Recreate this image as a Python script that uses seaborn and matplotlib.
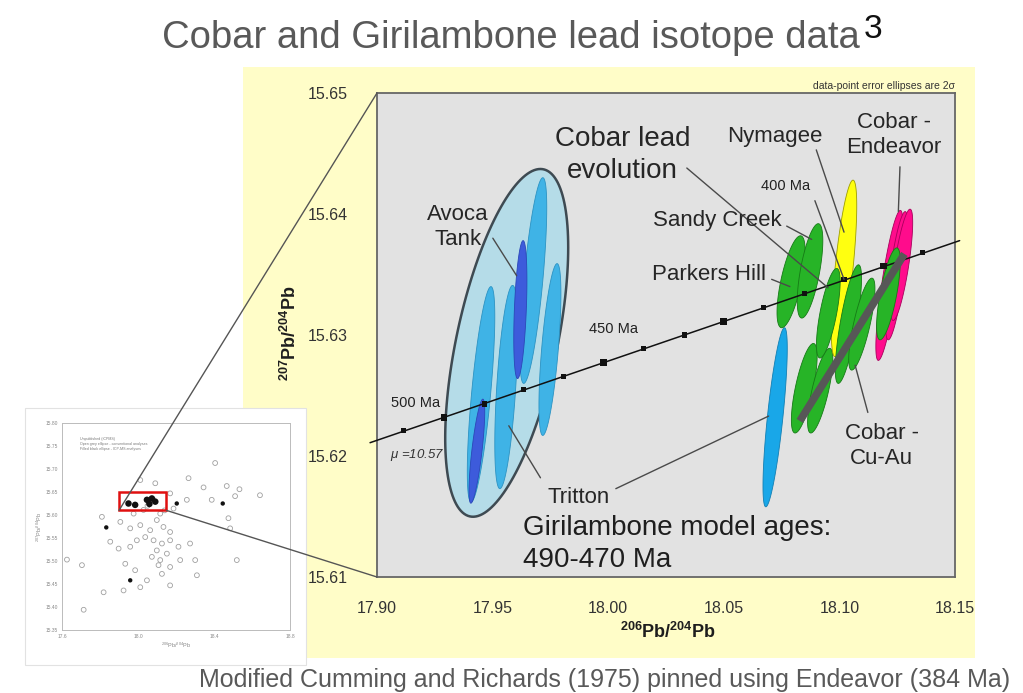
import numpy as np
import matplotlib
matplotlib.use("Agg")
import matplotlib.pyplot as plt
import seaborn as sns
from matplotlib.patches import Rectangle, ConnectionPatch

sns.set_theme(style="white")
plt.rcParams["font.family"] = ["Liberation Sans", "DejaVu Sans"]
plt.rcParams["mathtext.fontset"] = "custom"
plt.rcParams["mathtext.rm"] = "Liberation Sans"
plt.rcParams["mathtext.bf"] = "Liberation Sans:bold"
plt.rcParams["mathtext.it"] = "Liberation Sans:italic"

# ---------------- data ----------------
x_ticks = [17.90, 17.95, 18.00, 18.05, 18.10, 18.15]
y_ticks = [15.61, 15.62, 15.63, 15.64, 15.65]

# Cumming & Richards growth curve (modified)
evo_curve_x = [17.897, 18.152]
evo_curve_y = [15.6211, 15.6378]
evo_x = [17.9115, 17.929, 17.9465, 17.9635, 17.9806, 17.998, 18.0153,
         18.033, 18.050, 18.067, 18.085, 18.102, 18.119, 18.136]
evo_y = [15.6221, 15.6232, 15.6243, 15.6255, 15.6266, 15.6277, 15.6289,
         15.6300, 15.6311, 15.6323, 15.6334, 15.6346, 15.6357, 15.6368]
evo_major = [False, True, False, False, False, True, False,
             False, True, False, False, False, True, False]

# Girilambone envelope ellipse (centre, 2-sigma half widths, correlation)
env_x, env_y, env_sx, env_sy, env_rho = 17.9561, 15.62935, 0.0266, 0.01437, 0.548

# Avoca Tank / Tritton (Girilambone) error ellipses
avoca_x = [17.9450, 17.9432, 17.9559, 17.9676, 17.9620, 17.9748]
avoca_y = [15.6251, 15.6204, 15.6257, 15.6345, 15.6321, 15.6288]
avoca_sx = [0.00595, 0.0034, 0.00495, 0.00582, 0.00284, 0.00475]
avoca_sy = [0.0089, 0.0043, 0.0084, 0.0085, 0.0057, 0.0071]
avoca_rho = [0.72, 0.76, 0.556, 0.707, 0.42, 0.65]
avoca_dark = [False, True, False, False, True, False]

# Tritton (blue, Cobar side)
trit_x, trit_y, trit_sx, trit_sy, trit_rho = 18.0722, 15.6232, 0.00525, 0.0074, 0.768

# Sandy Creek / Parkers Hill / Cobar Cu-Au (green)
green_x = [18.0791, 18.0873, 18.0848, 18.0917, 18.0952, 18.1039, 18.1097, 18.1212]
green_y = [15.6344, 15.6353, 15.6256, 15.6254, 15.6318, 15.6309, 15.6309, 15.6334]
green_sx = [0.00608, 0.00553, 0.00557, 0.00545, 0.00512, 0.00567, 0.00567, 0.00512]
green_sy = [0.0038, 0.0039, 0.0037, 0.0035, 0.0037, 0.0049, 0.0038, 0.0038]
green_rho = [0.666, 0.642, 0.709, 0.743, 0.703, 0.767, 0.767, 0.703]

# Nymagee (yellow)
nym_x, nym_y, nym_sx, nym_sy, nym_rho = 18.1020, 15.6355, 0.0055, 0.0073, 0.707

# Cobar - Endeavor (magenta)
end_x = [18.1216, 18.1248, 18.1269]
end_y = [15.6341, 15.6349, 15.6358]
end_sx = [0.00583, 0.0048, 0.0048]
end_sy = [0.0062, 0.0053, 0.0046]
end_rho = [0.815, 0.76, 0.76]

# Cobar Cu-Au trend line
trend_x = [18.0829, 18.1281]
trend_y = [15.6229, 15.6367]

# Labels: text, x, y, size
labels = [
    ("Cobar lead\nevolution", 18.0062, 15.6449, 20),
    ("Nymagee", 18.0719, 15.6464, 16),
    ("Cobar -\nEndeavor", 18.1234, 15.6465, 16),
    ("Sandy Creek", 18.0471, 15.6395, 16),
    ("Parkers Hill", 18.0437, 15.6350, 16),
    ("Avoca\nTank", 17.9350, 15.6389, 16),
    ("Tritton", 17.9870, 15.6166, 16),
    ("Cobar -\nCu-Au", 18.1183, 15.6208, 16),
]
age_labels = [("400 Ma", 18.0765, 15.6423), ("450 Ma", 18.0024, 15.6305),
              ("500 Ma", 17.9166, 15.6244)]
leaders = [
    (18.0340, 15.6438, 18.0951, 15.6339),
    (18.0900, 15.6453, 18.1020, 15.6385),
    (18.1262, 15.6439, 18.1255, 15.6402),
    (18.0894, 15.6411, 18.1020, 15.6346),
    (18.0772, 15.6390, 18.0880, 15.6379),
    (18.0707, 15.6346, 18.0786, 15.6340),
    (17.9501, 15.6380, 17.9604, 15.6349),
    (17.9707, 15.6182, 17.9570, 15.6225),
    (18.0033, 15.6173, 18.0694, 15.6233),
    (18.1123, 15.6236, 18.1068, 15.6275),
]

# Inset (regional data)
inset_x = [18.406, 18.266, 18.345, 18.467, 18.534, 18.642, 18.511, 18.388, 18.257, 18.169,
           18.187, 17.810, 17.907, 17.959, 18.012, 18.064, 18.099, 18.134, 18.169, 18.038,
           18.082, 18.126, 18.169, 18.213, 18.274, 17.994, 17.959, 18.099, 18.152, 18.117,
           18.073, 18.169, 18.108, 18.222, 18.301, 18.310, 18.126, 18.047, 18.169, 17.985,
           17.933, 17.854, 17.898, 18.485, 18.476, 18.520, 17.705, 17.626, 17.819, 17.924,
           17.714, 18.012, 18.091, 18.012, 18.082, 18.029, 17.977, 18.117, 18.050, 18.140]
inset_y = [15.713, 15.680, 15.660, 15.663, 15.656, 15.643, 15.641, 15.633, 15.633, 15.647,
           15.614, 15.596, 15.585, 15.571, 15.578, 15.567, 15.589, 15.574, 15.563, 15.552,
           15.545, 15.538, 15.545, 15.531, 15.538, 15.545, 15.531, 15.523, 15.516, 15.502,
           15.509, 15.487, 15.491, 15.502, 15.502, 15.469, 15.472, 15.458, 15.447, 15.480,
           15.494, 15.542, 15.527, 15.571, 15.593, 15.502, 15.491, 15.503, 15.432, 15.436,
           15.394, 15.443, 15.669, 15.676, 15.633, 15.611, 15.603, 15.603, 15.620, 15.610]
inset_bx = [17.833, 18.204, 18.446, 17.959]
inset_by = [15.573, 15.625, 15.625, 15.458]
cluster_x = [17.950, 17.985, 18.047, 18.073, 18.091, 18.060]
cluster_y = [15.625, 15.622, 15.633, 15.636, 15.629, 15.624]


def ellipse(cx, cy, sx, sy, rho, n=160):
    t = np.linspace(0, 2 * np.pi, n)
    xs = cx + sx * np.cos(t)
    ys = cy + sy * (rho * np.cos(t) + np.sqrt(1 - rho ** 2) * np.sin(t))
    return xs, ys


W, H = 1023, 693
fig = plt.figure(figsize=(W / 100, H / 100), dpi=100)
fig.patch.set_facecolor("white")

# yellow slide panel and white inset panel
fig.add_artist(Rectangle((243 / W, 1 - 658 / H), 732 / W, 591 / H, transform=fig.transFigure,
                         facecolor="#FFFDC8", edgecolor="none", zorder=-5))
fig.add_artist(Rectangle((25 / W, 1 - 665 / H), 281 / W, 257 / H, transform=fig.transFigure,
                         facecolor="white", edgecolor="#E2E2E2", lw=0.8, zorder=-4))

# ---------------- main axes ----------------
ax = fig.add_axes([377 / W, 1 - 577 / H, 578 / W, 484 / H])
ax.set_facecolor("#E2E2E2")
ax.set_xlim(17.90, 18.15)
ax.set_ylim(15.61, 15.65)
for s in ax.spines.values():
    s.set_color("#666666")
    s.set_linewidth(1.3)

# envelope
ex, ey = ellipse(env_x, env_y, env_sx, env_sy, env_rho)
ax.fill(ex, ey, facecolor="#B5DCE8", edgecolor="#3E4A52", lw=1.8, zorder=2)

for i in range(len(avoca_x)):
    xs, ys = ellipse(avoca_x[i], avoca_y[i], avoca_sx[i], avoca_sy[i], avoca_rho[i])
    if avoca_dark[i]:
        ax.fill(xs, ys, facecolor="#3D5BDB", edgecolor="#2C47B8", lw=0.6, zorder=3)
    else:
        ax.fill(xs, ys, facecolor="#3FB3E6", edgecolor="#2C93C3", lw=0.6, zorder=3)

xs, ys = ellipse(trit_x, trit_y, trit_sx, trit_sy, trit_rho)
ax.fill(xs, ys, facecolor="#19A7E8", edgecolor="#137FB3", lw=0.6, zorder=3)

for i in range(len(end_x)):
    xs, ys = ellipse(end_x[i], end_y[i], end_sx[i], end_sy[i], end_rho[i])
    ax.fill(xs, ys, facecolor="#FF0C8C", edgecolor="#A8005C", lw=0.6, zorder=3)

for i in range(len(green_x)):
    xs, ys = ellipse(green_x[i], green_y[i], green_sx[i], green_sy[i], green_rho[i])
    z = 3 if i < 4 else 5
    ax.fill(xs, ys, facecolor="#27B427", edgecolor="#167A16", lw=0.6, zorder=z)
    if i == 3:
        nx, ny = ellipse(nym_x, nym_y, nym_sx, nym_sy, nym_rho)
        ax.fill(nx, ny, facecolor="#FFFF10", edgecolor="#9E9E00", lw=0.6, zorder=4)

# growth curve
sns.lineplot(x=evo_curve_x, y=evo_curve_y, ax=ax, color="#111111", lw=1.1,
             sort=False, zorder=6)
ax.lines[-1].set_clip_on(False)
mx = [x for x, m in zip(evo_x, evo_major) if not m]
my = [y for y, m in zip(evo_y, evo_major) if not m]
Mx = [x for x, m in zip(evo_x, evo_major) if m]
My = [y for y, m in zip(evo_y, evo_major) if m]
sns.scatterplot(x=mx, y=my, ax=ax, marker="s", s=14, color="#111111",
                edgecolor="none", zorder=7)
sns.scatterplot(x=Mx, y=My, ax=ax, marker="s", s=24, color="#111111",
                edgecolor="none", zorder=7)

# Cobar Cu-Au trend
sns.lineplot(x=trend_x, y=trend_y, ax=ax, color="#575757", lw=5.5, sort=False,
             zorder=8, solid_capstyle="butt")

# leaders
for x0, y0, x1, y1 in leaders:
    ax.plot([x0, x1], [y0, y1], color="#4A4A4A", lw=1.0, zorder=9)

for txt, x, y, fs in labels:
    ax.text(x, y, txt, fontsize=fs, color="#262626", ha="center", va="center",
            linespacing=1.3 if fs > 18 else 1.25, zorder=10)
for txt, x, y in age_labels:
    ax.text(x, y, txt, fontsize=10.5, color="#222222", ha="center", va="center",
            zorder=10)
ax.text(17.9175, 15.6201, r"$\mu$ =10.57", fontsize=9.5, style="italic",
        color="#333333", ha="center", va="center", zorder=10)
ax.text(17.9630, 15.6127, "Girilambone model ages:\n490-470 Ma", fontsize=20,
        color="#1E1E1E", ha="left", va="center", linespacing=1.3, zorder=10)
ax.text(1.0, 1.004, "data-point error ellipses are 2\u03c3", transform=ax.transAxes,
        fontsize=7.5, color="#333333", ha="right", va="bottom")

ax.set_xticks(x_ticks)
ax.set_xticklabels([f"{v:.2f}" for v in x_ticks])
ax.set_yticks(y_ticks)
ax.set_yticklabels([f"{v:.2f}" for v in y_ticks])
ax.set_xticks(np.arange(17.90, 18.1501, 0.01), minor=True)
ax.set_yticks(np.arange(15.61, 15.6501, 0.002), minor=True)
ax.tick_params(axis="both", which="both", direction="in", color="#555555",
               labelsize=11.5, labelcolor="#333333")
ax.tick_params(axis="both", which="major", length=5, width=1)
ax.tick_params(axis="both", which="minor", length=4, width=0.8)
ax.tick_params(axis="y", which="major", pad=21)
ax.tick_params(axis="x", which="major", pad=17)
ax.set_xlabel(r"$\mathbf{^{206}Pb/^{204}Pb}$", fontsize=13, color="#1E1E1E")
ax.set_ylabel(r"$\mathbf{^{207}Pb/^{204}Pb}$", fontsize=13, color="#1E1E1E")
ax.xaxis.set_label_coords(0.503, -0.093)
ax.yaxis.set_label_coords(-0.133, 0.504)

# ---------------- inset ----------------
axi = fig.add_axes([62 / W, 1 - 630 / H, 228 / W, 207 / H])
axi.set_facecolor("white")
axi.set_xlim(17.6, 18.8)
axi.set_ylim(15.35, 15.80)
for s in axi.spines.values():
    s.set_color("#BBBBBB")
    s.set_linewidth(0.7)
sns.scatterplot(x=inset_x, y=inset_y, ax=axi, marker="o", s=12,
                facecolor="none", edgecolor="#A0A0A0", linewidth=0.6)
sns.scatterplot(x=inset_bx, y=inset_by, ax=axi, marker="o", s=10,
                color="#111111", edgecolor="none")
sns.scatterplot(x=cluster_x, y=cluster_y, ax=axi, marker="o", s=22,
                color="#111111", edgecolor="none")
axi.add_patch(Rectangle((17.90, 15.61), 0.25, 0.04, fill=False, edgecolor="#E01010",
                        lw=1.8, zorder=5))
axi.set_xticks([17.6, 18.0, 18.4, 18.8])
axi.set_xticklabels(["17.6", "18.0", "18.4", "18.8"])
iy = [15.35, 15.40, 15.45, 15.50, 15.55, 15.60, 15.65, 15.70, 15.75, 15.80]
axi.set_yticks(iy)
axi.set_yticklabels([f"{v:.2f}" for v in iy])
axi.tick_params(labelsize=3.5, labelcolor="#888888", length=1.5, width=0.5,
                color="#999999", pad=1.5)
axi.set_xlabel(r"$^{206}$Pb/$^{204}$Pb", fontsize=4, color="#888888", labelpad=1)
axi.set_ylabel(r"$^{207}$Pb/$^{204}$Pb", fontsize=4, color="#888888", labelpad=1)
axi.text(0.08, 0.93, "Unpublished (ICPMS)\nOpen grey ellipse - conventional analyses\n"
         "Filled black ellipse - ICP-MS analyses", transform=axi.transAxes,
         fontsize=2.6, color="#777777", va="top", ha="left", linespacing=1.3)

# connector lines
for (xa, ya), (xb, yb) in [((17.90, 15.61), (17.90, 15.65)),
                           ((18.15, 15.61), (17.90, 15.61))]:
    con = ConnectionPatch(xyA=(xa, ya), coordsA=axi.transData, xyB=(xb, yb),
                          coordsB=ax.transData, color="#555555", lw=1.0, zorder=20)
    fig.add_artist(con)

# ---------------- slide texts ----------------
fig.text(511 / W, 1 - 38 / H, "Cobar and Girilambone lead isotope data", fontsize=27.5,
         color="#595959", ha="center", va="center")
fig.text(864 / W, 1 - 29 / H, "3", fontsize=24, color="#111111", ha="left", va="center")
fig.text(605 / W, 1 - 680 / H,
         "Modified Cumming and Richards (1975) pinned using Endeavor (384 Ma)",
         fontsize=18, color="#595959", ha="center", va="center")

fig.savefig("out.png", dpi=100)
